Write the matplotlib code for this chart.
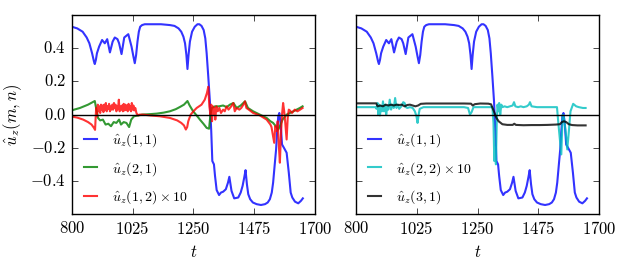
import matplotlib
matplotlib.use('Agg')
import matplotlib.pyplot as plt

# u_z(1,1)
t_11 = [800, 820, 840, 855, 865, 875, 882, 885, 889, 893, 901, 912, 922, 931, 941, 951, 959, 969,
        975, 984, 994, 1009, 1021, 1028, 1033, 1038, 1043, 1048, 1053, 1060, 1070, 1100, 1130,
        1163, 1180, 1195, 1205, 1213, 1219, 1224, 1228, 1232, 1237, 1245, 1255, 1265, 1272, 1280,
        1288, 1294, 1299, 1305, 1311, 1316, 1320, 1326, 1330, 1336, 1345, 1352, 1360, 1370, 1378,
        1383, 1391, 1401, 1416, 1425, 1432, 1438, 1443, 1448, 1453, 1460, 1470, 1484, 1500, 1515,
        1525, 1533, 1540, 1545, 1551, 1556, 1560, 1564, 1568, 1573, 1578, 1585, 1595, 1603, 1610,
        1616, 1626, 1638, 1648, 1655]
u_11 = [0.53, 0.52, 0.5, 0.465, 0.43, 0.37, 0.32, 0.305, 0.33, 0.37, 0.41, 0.45, 0.43, 0.455,
        0.375, 0.44, 0.465, 0.455, 0.43, 0.365, 0.465, 0.485, 0.41, 0.35, 0.31, 0.36, 0.44, 0.5,
        0.53, 0.54, 0.545, 0.545, 0.545, 0.54, 0.535, 0.52, 0.5, 0.47, 0.43, 0.36, 0.275, 0.36,
        0.44, 0.5, 0.53, 0.545, 0.545, 0.535, 0.51, 0.46, 0.37, 0.23, 0.08, -0.1, -0.28, -0.3,
        -0.37, -0.455, -0.485, -0.47, -0.465, -0.45, -0.41, -0.375, -0.46, -0.505, -0.5, -0.47,
        -0.43, -0.38, -0.335, -0.42, -0.48, -0.51, -0.53, -0.54, -0.545, -0.54, -0.53, -0.51,
        -0.47, -0.41, -0.3, -0.21, -0.1, -0.01, 0.01, -0.06, -0.18, -0.2, -0.23, -0.35, -0.47,
        -0.5, -0.525, -0.535, -0.52, -0.505]

# u_z(2,1)
t_21 = [800, 830, 860, 885, 891, 897, 905, 915, 925, 935, 945, 955, 965, 975, 982, 992, 1002,
        1012, 1020, 1030, 1046, 1060, 1090, 1114, 1140, 1163, 1185, 1200, 1215, 1228, 1236, 1249,
        1262, 1274, 1287, 1299, 1308, 1313, 1318, 1330, 1345, 1360, 1373, 1385, 1398, 1410, 1425,
        1441, 1452, 1471, 1496, 1521, 1535, 1545, 1555, 1564, 1570, 1580, 1595, 1620, 1644, 1654]
u_21 = [0.026, 0.04, 0.06, 0.082, 0.03, -0.02, -0.035, -0.03, -0.06, -0.055, -0.07, -0.045, -0.05,
        -0.03, -0.06, -0.045, -0.05, -0.075, -0.03, -0.01, -0.005, 0.0, 0.003, 0.006, 0.012, 0.02,
        0.033, 0.046, 0.06, 0.082, 0.055, 0.02, -0.005, -0.03, -0.055, -0.08, -0.085, 0.0, 0.04,
        0.05, 0.05, 0.055, 0.045, 0.06, 0.07, 0.04, 0.055, 0.08, 0.04, 0.02, 0.0, -0.02, -0.04,
        -0.05, -0.07, -0.09, -0.07, -0.03, 0.0, 0.02, 0.04, 0.05]

# u_z(1,2) x 10
t_12 = [800, 820, 842, 860, 873, 882, 886, 890, 893, 896, 899, 902, 905, 908, 911, 914, 917, 920,
        923, 926, 929, 932, 935, 938, 941, 944, 947, 950, 953, 956, 959, 962, 965, 968, 971, 974,
        977, 980, 983, 986, 989, 992, 995, 998, 1001, 1004, 1007, 1010, 1013, 1016, 1019, 1022,
        1025, 1028, 1031, 1035, 1039, 1045, 1050, 1064, 1090, 1126, 1163, 1190, 1205, 1215, 1222,
        1227, 1231, 1240, 1250, 1262, 1280, 1292, 1300, 1305, 1309, 1313, 1316, 1319, 1322, 1325,
        1328, 1331, 1335, 1340, 1346, 1352, 1360, 1366, 1373, 1380, 1390, 1398, 1403, 1410, 1420,
        1427, 1435, 1441, 1446, 1455, 1471, 1496, 1521, 1535, 1539, 1545, 1549, 1553, 1558, 1562,
        1566, 1570, 1574, 1578, 1582, 1586, 1590, 1595, 1599, 1603, 1607, 1615, 1625, 1635, 1645,
        1654]
u_12 = [-0.012, -0.018, -0.03, -0.045, -0.06, -0.08, -0.092, 0.04, -0.01, 0.06, 0.02, 0.05, 0.01,
        0.06, 0.03, 0.055, 0.015, 0.06, 0.03, 0.07, 0.02, 0.05, 0.035, 0.065, 0.02, 0.05, 0.03,
        0.06, 0.03, 0.07, 0.04, 0.06, 0.02, 0.05, 0.035, 0.09, 0.02, 0.05, 0.03, 0.055, 0.02, 0.065,
        0.025, 0.06, 0.03, 0.055, 0.02, 0.065, 0.03, 0.05, 0.02, 0.07, 0.03, 0.055, 0.025, 0.04,
        0.01, -0.005, 0.0, 0.0, -0.005, -0.01, -0.02, -0.035, -0.05, -0.065, -0.09, -0.075, -0.04,
        0.0, 0.02, 0.04, 0.06, 0.09, 0.13, 0.168, 0.05, 0.0, 0.06, -0.04, 0.05, 0.0, 0.04, -0.03,
        0.05, 0.02, 0.04, 0.01, 0.03, 0.02, 0.05, 0.03, 0.05, 0.07, 0.02, 0.04, 0.03, 0.04, 0.06,
        0.08, 0.04, 0.03, 0.01, -0.005, -0.03, -0.06, -0.075, -0.13, -0.17, -0.07, -0.1, -0.04,
        -0.18, -0.29, -0.12, 0.0, 0.07, 0.02, -0.05, -0.15, -0.02, 0.03, 0.025, 0.01, 0.03, 0.02,
        0.03, 0.04]

# u_z(2,2) x 10
t_22 = [800, 840, 872, 876, 880, 883, 886, 889, 892, 896, 900, 904, 908, 912, 916, 920, 925, 930,
        935, 940, 945, 950, 955, 960, 968, 975, 980, 985, 990, 1000, 1010, 1018, 1024, 1028, 1032,
        1036, 1050, 1100, 1150, 1200, 1215, 1222, 1228, 1235, 1260, 1290, 1305, 1309, 1312, 1315,
        1318, 1321, 1324, 1327, 1330, 1334, 1338, 1342, 1350, 1360, 1370, 1380, 1385, 1390, 1400,
        1410, 1420, 1432, 1440, 1444, 1450, 1470, 1500, 1530, 1544, 1549, 1553, 1560, 1565, 1570,
        1576, 1582, 1588, 1594, 1604, 1615, 1625, 1640, 1650]
u_22 = [0.045, 0.045, 0.045, 0.035, 0.07, 0.0, 0.06, -0.005, 0.05, 0.02, 0.08, 0.02, 0.06, 0.0,
        0.05, 0.03, 0.09, 0.03, 0.06, 0.04, 0.1, 0.04, 0.06, 0.035, 0.05, 0.075, 0.07, 0.045, 0.04,
        0.045, 0.04, 0.02, -0.01, -0.05, 0.0, 0.035, 0.045, 0.045, 0.045, 0.045, 0.04, 0.0, 0.015,
        0.045, 0.045, 0.045, 0.045, -0.05, -0.28, -0.2, -0.3, -0.05, 0.06, 0.02, 0.07, 0.0, 0.06,
        0.045, 0.05, 0.045, 0.05, 0.055, 0.075, 0.05, 0.045, 0.05, 0.045, 0.05, 0.06, 0.075, 0.05,
        0.045, 0.045, 0.045, 0.045, -0.05, -0.12, -0.24, 0.0, -0.02, -0.1, -0.21, -0.1, 0.02, 0.065,
        0.05, 0.045, 0.04, 0.04]

# u_z(3,1)
t_31 = [800, 840, 875, 880, 890, 900, 910, 920, 930, 940, 950, 960, 970, 980, 990, 1000, 1010,
        1020, 1030, 1040, 1060, 1100, 1150, 1200, 1226, 1232, 1240, 1260, 1290, 1300, 1308, 1314,
        1320, 1328, 1342, 1360, 1380, 1386, 1392, 1420, 1450, 1480, 1510, 1540, 1555, 1562, 1570,
        1578, 1588, 1600, 1620, 1650]
u_31 = [0.068, 0.068, 0.068, 0.05, 0.055, 0.05, 0.06, 0.055, 0.06, 0.055, 0.06, 0.058, 0.06, 0.05,
        0.058, 0.06, 0.055, 0.05, 0.055, 0.065, 0.067, 0.067, 0.067, 0.067, 0.066, 0.055, 0.063,
        0.067, 0.066, 0.062, 0.03, 0.005, -0.02, -0.04, -0.058, -0.062, -0.062, -0.055, -0.062,
        -0.064, -0.063, -0.063, -0.062, -0.06, -0.058, -0.045, -0.04, -0.045, -0.058, -0.063,
        -0.065, -0.065]

xticks = [800, 1025, 1250, 1475, 1700]
yticks = [-0.4, -0.2, 0.0, 0.2, 0.4]

plt.style.use('classic')
plt.rcParams['font.family'] = 'serif'
plt.rcParams['font.serif'] = ['cmr10']
plt.rcParams['mathtext.fontset'] = 'cm'
plt.rcParams['axes.formatter.use_mathtext'] = True
plt.rcParams['font.size'] = 12

fig = plt.figure(figsize=(6.3, 2.7), dpi=100)
fig.patch.set_facecolor('white')
ax1 = fig.add_axes([0.114, 0.207, 0.386, 0.737])
ax2 = fig.add_axes([0.565, 0.207, 0.386, 0.737])

lw = 1.5
ax1.plot(t_11, u_11, color='b', alpha=0.8, lw=lw, label=r'$\hat{u}_z(1,1)$')
ax1.plot(t_21, u_21, color='g', alpha=0.8, lw=lw, label=r'$\hat{u}_z(2,1)$')
ax1.plot(t_12, u_12, color='r', alpha=0.8, lw=lw, label=r'$\hat{u}_z(1,2)\times 10$')

ax2.plot(t_11, u_11, color='b', alpha=0.8, lw=lw, label=r'$\hat{u}_z(1,1)$')
ax2.plot(t_22, u_22, color='c', alpha=0.8, lw=lw, label=r'$\hat{u}_z(2,2)\times 10$')
ax2.plot(t_31, u_31, color='k', alpha=0.8, lw=lw, label=r'$\hat{u}_z(3,1)$')

for ax in (ax1, ax2):
    ax.axhline(0, color='k', lw=1)
    ax.set_xlim(800, 1700)
    ax.set_ylim(-0.6, 0.6)
    ax.set_xticks(xticks)
    ax.set_yticks(yticks)
    ax.set_xlabel(r'$t$')
    ax.legend(loc='lower left', frameon=False, fontsize=10, handlelength=1.5,
              borderaxespad=0.2, labelspacing=0.75)

ax1.set_ylabel(r'$\hat{u}_z(m,n)$')
ax2.set_yticklabels([])

plt.savefig('out.png', dpi=100, facecolor='white')
